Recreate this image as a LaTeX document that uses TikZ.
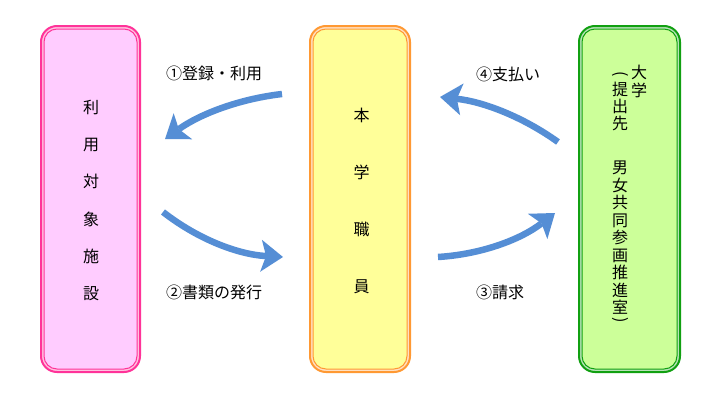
\documentclass[tikz,border=0pt]{standalone}
\usepackage{fontspec}
\setmainfont{Noto Sans CJK JP}
\usetikzlibrary{arrows.meta}
\definecolor{pinkline}{HTML}{FF3399}
\definecolor{pinkfill}{HTML}{FFCCFF}
\definecolor{orangeline}{HTML}{FF9933}
\definecolor{yellowfill}{HTML}{FFFF99}
\definecolor{greenline}{HTML}{11A011}
\definecolor{greenfill}{HTML}{CCFF99}
\definecolor{arrowblue}{HTML}{558ED5}
\tikzset{
  outerbox/.style={rectangle, draw=#1, line width=2pt, rounded corners=16pt, fill=#1!30!white, inner sep=0pt},
  innerbox/.style 2 args={rectangle, draw=#1, line width=1pt, rounded corners=13pt, fill=#2, inner sep=0pt},
  ch/.style={inner sep=0pt, font=\fontsize{16pt}{17pt}\selectfont, text height=13.3pt, text depth=1.1pt},
  paren/.style={inner sep=0pt, font=\fontsize{16pt}{17pt}\selectfont, rotate=-90},
  lbl/.style={inner sep=0pt, anchor=west, font=\fontsize{16pt}{17pt}\selectfont, text height=13.3pt, text depth=1.1pt},
  bluearrow/.style={draw=arrowblue, line width=6.5pt, line cap=butt,
    -{Stealth[length=22pt, width=32pt, inset=5pt, line width=0pt]}},
}
\begin{document}
\begin{tikzpicture}[x=1pt, y=-1pt]
\useasboundingbox (0,0) rectangle (721,402);
\fill[white] (0,0) rectangle (721,402);

% boxes
\node[outerbox=pinkline, minimum width=99pt, minimum height=346pt] (fac) at (90.5,199) {};
\node[innerbox={pinkline}{pinkfill}, minimum width=93pt, minimum height=340pt] (facin) at (fac.center) {};
\node[outerbox=orangeline, minimum width=100pt, minimum height=346pt] (staff) at (360,199) {};
\node[innerbox={orangeline}{yellowfill}, minimum width=94pt, minimum height=340pt] (staffin) at (staff.center) {};
\node[outerbox=greenline, minimum width=101pt, minimum height=346pt] (univ) at (629.5,199) {};
\node[innerbox={greenline}{greenfill}, minimum width=95pt, minimum height=340pt] (univin) at (univ.center) {};

% left box text
\foreach \c/\y [count=\i] in {利/107,用/144.3,対/181.6,象/218.9,施/256.2,設/293.5}
  \node[ch] (f\i) at (91,\y) {\c};
% middle box text
\foreach \c/\y [count=\i] in {本/115.5,学/172.5,職/229.5,員/286.5}
  \node[ch] (s\i) at (361.5,\y) {\c};
% right box text (vertical)
\foreach \c/\y [count=\i] in {大/72.8,学/90}
  \node[ch] (ua\i) at (639,\y) {\c};
\node[paren] (ubo) at (620,74) {(};
\foreach \c/\y [count=\i] in {提/89.5,出/106.5,先/123.5,男/167.5,女/185,共/202.5,同/220,参/237.5,画/255,推/272.5,進/290,室/307.5}
  \node[ch] (ub\i) at (620,\y) {\c};
\node[paren] (ubc) at (620,320) {)};

% labels
\node[lbl] (l1) at (166,73) {①登録・利用};
\node[lbl] (l2) at (166,292) {②書類の発行};
\node[lbl] (l3) at (476,292) {③請求};
\node[lbl] (l4) at (476,74) {④支払い};

% arrows
\coordinate (a1s) at (282,94);  \coordinate (a1e) at (165,139);
\coordinate (a2s) at (163,212); \coordinate (a2e) at (283,257);
\coordinate (a3s) at (438,257); \coordinate (a3e) at (555,213);
\coordinate (a4s) at (558,142); \coordinate (a4e) at (440,97);
\draw[bluearrow] (a1s) .. controls (239.1,99) and (200.1,114) .. (a1e);
\draw[bluearrow] (a2s) .. controls (198.3,239.5) and (238.3,254.5) .. (a2e);
\draw[bluearrow] (a3s) .. controls (481.5,254.3) and (520.5,239.6) .. (a3e);
\draw[bluearrow] (a4s) .. controls (522.7,116.7) and (483.3,101.7) .. (a4e);
\end{tikzpicture}
\end{document}
